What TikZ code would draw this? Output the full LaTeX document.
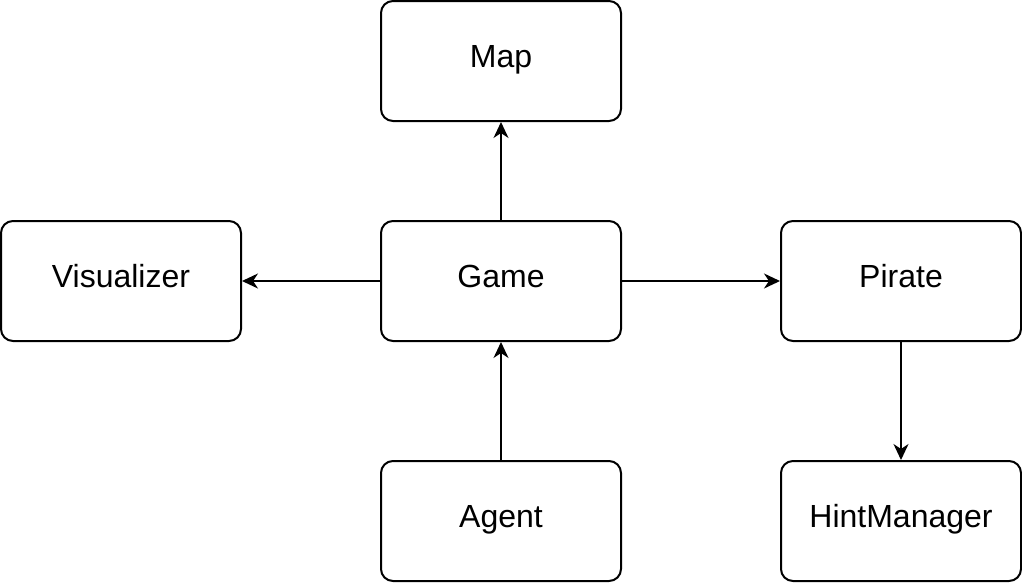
\documentclass[tikz,border=0pt]{standalone}
\usepackage{fontspec}
\setmainfont{Liberation Sans}
\usetikzlibrary{arrows.meta}
\begin{document}
\begin{tikzpicture}[x=1pt,y=-1pt,
  box/.style={draw=black,line width=2pt,rounded corners=12pt,minimum width=240pt,minimum height=120pt,inner sep=0pt,text height=23pt,text depth=10pt,font=\fontsize{32}{38}\selectfont,anchor=center},
  conn/.style={line width=2pt,-{Stealth[length=16pt,width=15pt,inset=5pt]}}]
\useasboundingbox (0,0) rectangle (1022,582);
\node[box] (map) at (501,61) {Map};
\node[box] (vis) at (121,281) {Visualizer};
\node[box] (game) at (501,281) {Game};
\node[box] (pirate) at (901,281) {Pirate};
\node[box] (agent) at (501,521) {Agent};
\node[box] (hint) at (901,521) {HintManager};
\draw[conn] (game) -- (map);
\draw[conn] (game) -- (vis);
\draw[conn] (game) -- (pirate);
\draw[conn] (agent) -- (game);
\draw[conn] (pirate) -- (hint);
\end{tikzpicture}
\end{document}
